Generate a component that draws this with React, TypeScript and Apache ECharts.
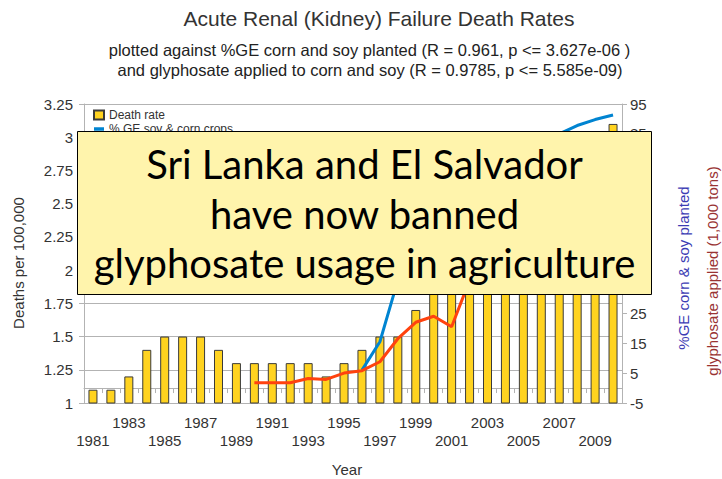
import React, { useEffect, useRef } from 'react';
import * as echarts from 'echarts';

const years = [
  '1981', '1982', '1983', '1984', '1985', '1986', '1987', '1988', '1989', '1990',
  '1991', '1992', '1993', '1994', '1995', '1996', '1997', '1998', '1999', '2000',
  '2001', '2002', '2003', '2004', '2005', '2006', '2007', '2008', '2009', '2010',
];

// Deaths per 100,000 (left axis)
const deathRate = [
  1.1, 1.1, 1.2, 1.4, 1.5, 1.5, 1.5, 1.4, 1.3, 1.3,
  1.3, 1.3, 1.3, 1.2, 1.3, 1.4, 1.5, 1.5, 1.7, 1.9,
  2.0, 2.1, 2.3, 2.4, 2.6, 2.7, 2.8, 2.9, 3.0, 3.1,
];

// % GE soy & corn planted (right axis)
const gePercent = [
  null, null, null, null, null, null, null, null, null, null,
  null, null, null, null, null, 6, 15.5, 36, 45, 48,
  55, 62, 68, 73, 78, 82, 85, 87.8, 89.8, 91.3,
];

// glyphosate applied, 1,000 tons (right axis)
const glyphosate = [
  null, null, null, null, null, null, null, null, null, 1.8,
  1.8, 1.8, 3.2, 2.9, 5.0, 5.8, 8.8, 16.5, 22, 24,
  20.5, 36, 42, 48, 55, 60, 64, 70, 68, 72,
];

// right-axis tick labels left visible (the others sit under the banner)
const rightTickLabels = [-5, 5, 15, 25, 85, 95];

const titleText = 'Acute Renal (Kidney) Failure Death Rates';
const subtitleLines = [
  'plotted against %GE corn and soy planted (R = 0.961, p <= 3.627e-06 )',
  'and glyphosate applied to corn and soy (R = 0.9785, p <= 5.585e-09)',
];
const bannerLines = [
  'Sri Lanka and El Salvador',
  'have now banned',
  'glyphosate usage in agriculture',
];

const FONT = '"Liberation Sans", Arial, sans-serif';

export default function App() {
  const ref = useRef<HTMLDivElement>(null);

  useEffect(() => {
    if (!ref.current) return;
    const chart = echarts.init(ref.current, null, { renderer: 'svg' });
    const grey = '#b3b3b3';
    const option: any = {
      animation: false,
      backgroundColor: '#ffffff',
      textStyle: { fontFamily: FONT },
      grid: { left: 84, right: 100, top: 104, bottom: 76, containLabel: false },
      legend: {
        orient: 'vertical',
        left: 93,
        top: 109,
        padding: 0,
        itemWidth: 10,
        itemHeight: 9,
        itemGap: 2,
        textStyle: { fontFamily: FONT, fontSize: 12, color: '#333' },
        data: [
          { name: 'Death rate', icon: 'rect' },
          { name: '% GE soy & corn crops', icon: 'path://M0,0h10v3.5h-10z' },
        ],
      },
      xAxis: {
        type: 'category',
        data: years,
        boundaryGap: true,
        axisLine: { lineStyle: { color: grey } },
        axisTick: { show: true, interval: 0, length: 5, lineStyle: { color: grey } },
        axisLabel: {
          interval: 1,
          fontFamily: FONT,
          fontSize: 15,
          color: '#333',
          margin: 10,
          lineHeight: 18,
          formatter: (v: string) => ((+v - 1981) % 4 === 0 ? '\n' + v : v),
        },
        splitLine: { show: false },
      },
      yAxis: [
        {
          type: 'value',
          min: 1,
          max: 3.25,
          interval: 0.25,
          position: 'left',
          axisLine: { show: true, lineStyle: { color: grey } },
          axisTick: { show: true, length: 5, lineStyle: { color: grey } },
          axisLabel: { fontFamily: FONT, fontSize: 15, color: '#333', margin: 11 },
          splitLine: { show: true, lineStyle: { color: grey, width: 1 } },
        },
        {
          type: 'value',
          min: -5,
          max: 95,
          interval: 10,
          position: 'right',
          axisLine: { show: true, lineStyle: { color: grey } },
          axisTick: { show: true, length: 5, lineStyle: { color: grey } },
          axisLabel: {
            fontFamily: FONT,
            fontSize: 15,
            color: '#333',
            margin: 8,
            formatter: (v: number) => (rightTickLabels.indexOf(Math.round(v)) >= 0 ? String(Math.round(v)) : ''),
          },
          splitLine: { show: false },
        },
      ],
      series: [
        {
          name: 'Death rate',
          type: 'bar',
          data: deathRate,
          barWidth: 9,
          yAxisIndex: 0,
          itemStyle: { color: '#ffd320', borderColor: '#3a3a3a', borderWidth: 1 },
          z: 2,
        },
        {
          name: '% GE soy & corn crops',
          type: 'line',
          data: gePercent,
          yAxisIndex: 1,
          symbol: 'none',
          showSymbol: false,
          lineStyle: { color: '#0084d1', width: 3 },
          itemStyle: { color: '#0084d1' },
          z: 3,
        },
        {
          name: 'Glyphosate applied',
          type: 'line',
          data: glyphosate,
          yAxisIndex: 1,
          symbol: 'none',
          showSymbol: false,
          lineStyle: { color: '#ff420e', width: 3 },
          itemStyle: { color: '#ff420e' },
          z: 4,
        },
      ],
      graphic: [
        {
          type: 'text',
          x: 379,
          y: 18,
          z: 100,
          style: { text: titleText, fontFamily: FONT, fontSize: 21, fill: '#333', align: 'center', verticalAlign: 'middle' },
        },
        {
          type: 'text',
          x: 369.5,
          y: 50,
          z: 100,
          style: { text: subtitleLines[0], fontFamily: FONT, fontSize: 16.5, fill: '#222', align: 'center', verticalAlign: 'middle' },
        },
        {
          type: 'text',
          x: 370,
          y: 70,
          z: 100,
          style: { text: subtitleLines[1], fontFamily: FONT, fontSize: 16.5, fill: '#222', align: 'center', verticalAlign: 'middle' },
        },
        {
          type: 'text',
          x: 18,
          y: 263,
          rotation: Math.PI / 2,
          z: 100,
          style: { text: 'Deaths per 100,000', fontFamily: FONT, fontSize: 15, fill: '#333', align: 'center', verticalAlign: 'middle' },
        },
        {
          type: 'text',
          x: 683,
          y: 268,
          rotation: Math.PI / 2,
          z: 100,
          style: { text: '%GE corn & soy planted', fontFamily: FONT, fontSize: 15, fill: '#3c3cb4', align: 'center', verticalAlign: 'middle' },
        },
        {
          type: 'text',
          x: 712,
          y: 271,
          rotation: Math.PI / 2,
          z: 100,
          style: { text: 'glyphosate applied (1,000 tons)', fontFamily: FONT, fontSize: 15, fill: '#993333', align: 'center', verticalAlign: 'middle' },
        },
        {
          type: 'text',
          x: 347,
          y: 469,
          z: 100,
          style: { text: 'Year', fontFamily: FONT, fontSize: 15, fill: '#333', align: 'center', verticalAlign: 'middle' },
        },
        {
          type: 'rect',
          z: 200,
          shape: { x: 77.5, y: 131.5, width: 574, height: 163 },
          style: { fill: '#fff4ac', stroke: '#000', lineWidth: 1 },
        },
        ...bannerLines.map((t, i) => ({
          type: 'text',
          x: 364.5,
          y: 164 + i * 49.5,
          z: 201,
          style: { text: t, fontFamily: 'Lato, "Open Sans", sans-serif', fontSize: 40, fill: '#000', align: 'center', verticalAlign: 'middle' },
        })),
      ],
    };
    chart.setOption(option);
    return () => chart.dispose();
  }, []);

  return <div ref={ref} style={{ position: 'absolute', left: 0, top: 0, width: 722, height: 479 }} />;
}
